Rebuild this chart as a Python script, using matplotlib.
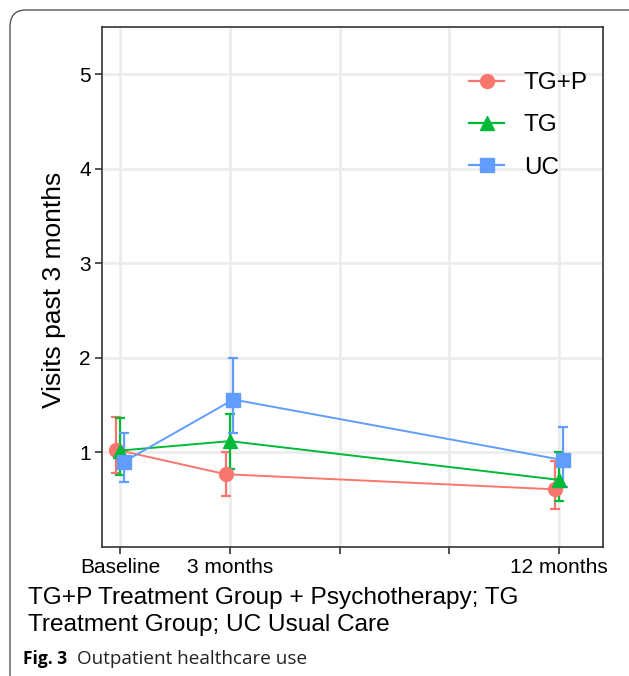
import matplotlib
matplotlib.use('Agg')
import matplotlib.pyplot as plt
from matplotlib.patches import FancyBboxPatch
from matplotlib.lines import Line2D

plt.rcParams['font.family'] = ['Liberation Sans', 'DejaVu Sans']

# Donnees
months = [0, 3, 12]
tick_pos = [0, 3, 6, 9, 12]
tick_labels = ['Baseline', '3 months', '', '', '12 months']
groups = ['TG+P', 'TG', 'UC']

tgp_mean = [1.03, 0.77, 0.61]
tgp_lo = [0.78, 0.54, 0.40]
tgp_hi = [1.37, 1.00, 0.91]

tg_mean = [1.02, 1.12, 0.71]
tg_lo = [0.76, 0.83, 0.49]
tg_hi = [1.36, 1.41, 1.00]

uc_mean = [0.90, 1.56, 0.92]
uc_lo = [0.69, 1.21, 0.64]
uc_hi = [1.21, 2.00, 1.27]

colors = ['#F8766D', '#00BA38', '#619CFF']
markers = ['o', '^', 's']
dodge = [-0.11, 0.0, 0.1]

means = [tgp_mean, tg_mean, uc_mean]
los = [tgp_lo, tg_lo, uc_lo]
his = [tgp_hi, tg_hi, uc_hi]

fig = plt.figure(figsize=(6.29, 6.76), dpi=100)
ax = fig.add_axes([0.1622, 0.1908, 0.7965, 0.7692])

for i in range(3):
    x = [m + dodge[i] for m in months]
    yerr = [[m - l for m, l in zip(means[i], los[i])],
            [h - m for m, h in zip(means[i], his[i])]]
    ax.errorbar(x, means[i], yerr=yerr, fmt='none', ecolor=colors[i],
                elinewidth=1.6, capsize=3.6, capthick=1.6, zorder=3)
for i in range(3):
    x = [m + dodge[i] for m in months]
    ax.plot(x, means[i], color=colors[i], lw=1.4, zorder=4)
for i in range(3):
    x = [m + dodge[i] for m in months]
    ms = 10 if markers[i] != 's' else 9.5
    ax.plot(x, means[i], linestyle='none', marker=markers[i], color=colors[i],
            markersize=ms, zorder=5 + i)

ax.set_xlim(-0.49, 13.2)
ax.set_ylim(0, 5.5)
ax.set_xticks(tick_pos)
ax.set_xticklabels(tick_labels)
ax.set_yticks([1, 2, 3, 4, 5])
ax.grid(True, color='#EBEBEB', lw=1.8)
ax.set_axisbelow(True)
for s in ax.spines.values():
    s.set_color('#333333')
    s.set_linewidth(1.2)
ax.tick_params(colors='#333333', width=1.2, length=5, labelsize=15,
               labelcolor='black', pad=3)
ax.set_ylabel('Visits past 3 months', fontsize=19)
ax.yaxis.set_label_coords(66 / 629, 1 - 290 / 676, transform=fig.transFigure)

handles = [Line2D([0], [0], color=colors[i], marker=markers[i], lw=1.6,
                  markersize=10 if markers[i] != 's' else 9.5)
           for i in range(3)]
ax.legend(handles, groups, loc='upper left',
          bbox_to_anchor=(469 / 629, 1 - 72 / 676),
          bbox_transform=fig.transFigure, borderpad=0, borderaxespad=0,
          frameon=False, fontsize=17.5, handlelength=1.45, labelspacing=0.84,
          handletextpad=0.8)

# Legende de la figure
fig.text(28 / 629, 1 - 598 / 676, 'TG+P Treatment Group + Psychotherapy; TG',
         fontsize=17.6, va='center', ha='left')
fig.text(28 / 629, 1 - 625 / 676, 'Treatment Group; UC Usual Care',
         fontsize=17.6, va='center', ha='left')
fig.text(23 / 629, 1 - 659 / 676, 'Fig. 3', fontsize=12.5, fontweight='bold',
         family=['Open Sans', 'DejaVu Sans'], va='center', ha='left')
fig.text(77 / 629, 1 - 659 / 676, 'Outpatient healthcare use', fontsize=13.6,
         family=['Open Sans', 'DejaVu Sans'], va='center', ha='left',
         color='#222222')

# Cadre arrondi
box = FancyBboxPatch((10 / 629, -0.05), 1.2, 1 - 10 / 676 + 0.05,
                     boxstyle='round,pad=0,rounding_size=0.025',
                     transform=fig.transFigure, fill=False,
                     edgecolor='#555555', lw=1.0)
fig.patches.append(box)

fig.savefig('out.png', dpi=100)
